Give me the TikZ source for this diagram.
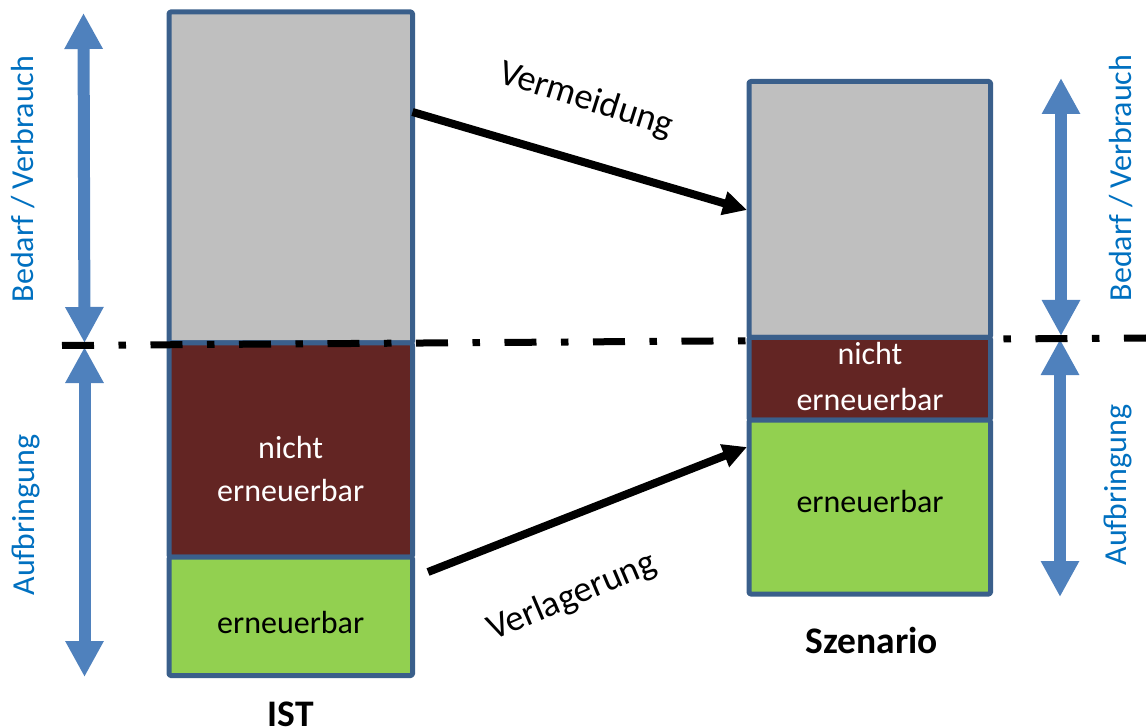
\documentclass[tikz,border=0pt]{standalone}
\usepackage{fontspec}
\setmainfont{Carlito}
\usetikzlibrary{arrows.meta,calc}

\definecolor{edge}{HTML}{3A5F8B}
\definecolor{barGray}{HTML}{BFBFBF}
\definecolor{barBrown}{HTML}{632523}
\definecolor{barGreen}{HTML}{92D050}
\definecolor{arrowBlue}{HTML}{4F81BD}
\definecolor{labelBlue}{HTML}{0070C0}

\tikzset{
  colbar/.style={draw=edge, line width=5pt, rounded corners=1.5pt, line join=round,
    inner sep=0pt, outer sep=0pt, anchor=north west},
  boxtext/.style={font=\fontsize{32}{43}\selectfont, inner sep=0pt},
  captiontext/.style={font=\fontsize{37.5}{42}\selectfont\bfseries, inner sep=0pt, anchor=base},
  sidelabel/.style={font=\fontsize{32}{38}\selectfont, text=labelBlue, inner sep=0pt, rotate=90},
  flowlabel/.style={font=\fontsize{36.5}{42}\selectfont, inner sep=0pt},
  spanarrow/.style={draw=arrowBlue, line width=12pt,
    {Triangle[width=36pt,length=36pt]}-{Triangle[width=36pt,length=36pt]}},
  flowarrow/.style={draw=black, line width=8pt, -{Triangle[width=23pt,length=24pt]}},
  levelline/.style={draw=black, line width=7pt,
    dash pattern=on 32pt off 24.5pt on 7.5pt off 24.5pt}
}

\begin{document}
\begin{tikzpicture}[x=1pt,y=-1pt]
\useasboundingbox (0,0) rectangle (1146,727);

% vertical range arrows
\coordinate (lt1) at (83.5,13);
\coordinate (lt2) at (84.5,343);
\coordinate (lb1) at (84.5,347);
\coordinate (lb2) at (84.5,677);
\coordinate (rt1) at (1061,78);
\coordinate (rt2) at (1061,336);
\coordinate (rb1) at (1060,339);
\coordinate (rb2) at (1060,597);
\draw[spanarrow] (lt1) -- (lt2);
\draw[spanarrow] (lb1) -- (lb2);
\draw[spanarrow] (rt1) -- (rt2);
\draw[spanarrow] (rb1) -- (rb2);

% current state column
\node[colbar, fill=barGray,  minimum width=243.5pt, minimum height=331pt]   (lgray)  at (169,12)  {};
\node[colbar, fill=barBrown, minimum width=243.5pt, minimum height=214pt]   (lbrown) at (169,343) {};
\node[colbar, fill=barGreen, minimum width=243.5pt, minimum height=118.5pt] (lgreen) at (169,557) {};

% demand / supply boundary
\coordinate (dl) at (62,345.5);
\coordinate (dr) at (1146,338);
\draw[levelline] (dl) -- (dr);

% scenario column
\node[colbar, fill=barGray,  minimum width=241.5pt, minimum height=256pt]  (rgray)  at (749,81.5)  {};
\node[colbar, fill=barBrown, minimum width=241.5pt, minimum height=82.5pt] (rbrown) at (749,337.5) {};
\node[colbar, fill=barGreen, minimum width=241.5pt, minimum height=174pt]  (rgreen) at (749,420)   {};

% texts in the columns
\node[boxtext, text=white, align=center] (lbrowntxt) at (290.7,469) {nicht\\erneuerbar};
\node[boxtext, anchor=base] (lgreentxt) at (290.7,633) {erneuerbar};
\node[boxtext, text=white, align=center, font=\fontsize{32}{46}\selectfont] (rbrowntxt) at (870,377) {nicht\\erneuerbar};
\node[boxtext, anchor=base] (rgreentxt) at (870,512) {erneuerbar};
\node[captiontext] (ist) at (290.7,726) {IST};
\node[captiontext] (szenario) at (872,653) {Szenario};

% side labels
\node[sidelabel] (lbedarf) at (23,179) {Bedarf / Verbrauch};
\node[sidelabel] (lauf) at (26,515) {Aufbringung};
\node[sidelabel] (rbedarf) at (1121,178) {Bedarf / Verbrauch};
\node[sidelabel] (rauf) at (1118,485) {Aufbringung};

% shifts between the columns
\draw[flowarrow] ($(lgray.north east)+(0,100)$) -- ($(rgray.north west)+(-2,128.5)$);
\draw[flowarrow] ($(lgreen.north east)+(15.5,15)$) -- ($(rgreen.north west)+(-2,27)$);
\node[flowlabel, rotate=-17.5] (vermeidung) at (586,100) {Vermeidung};
\node[flowlabel, rotate=23] (verlagerung) at (572,597) {Verlagerung};
\end{tikzpicture}
\end{document}
